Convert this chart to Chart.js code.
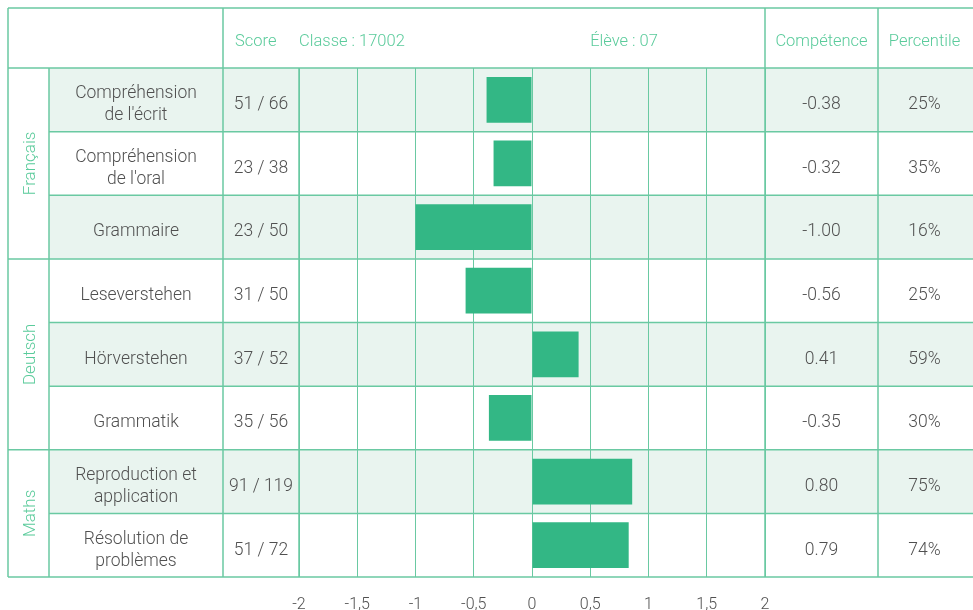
<!DOCTYPE html>
<html><head><meta charset="utf-8">
<script src="https://cdn.jsdelivr.net/npm/chart.js@4.4.1/dist/chart.umd.min.js"></script>
<style>html,body{margin:0;padding:0;background:#fff}#wrap{width:973px;height:610px}</style>
</head><body><div id="wrap"><canvas id="c" width="973" height="610"></canvas></div>
<script>
const groupLabels = ['Français', 'Deutsch', 'Maths'];
const groupSizes = [3, 3, 2];
const domains = [
  ['Compréhension', "de l'écrit"],
  ['Compréhension', "de l'oral"],
  ['Grammaire'],
  ['Leseverstehen'],
  ['Hörverstehen'],
  ['Grammatik'],
  ['Reproduction et', 'application'],
  ['Résolution de', 'problèmes']
];
const scores = ['51 / 66', '23 / 38', '23 / 50', '31 / 50', '37 / 52', '35 / 56', '91 / 119', '51 / 72'];
const competence = [-0.38, -0.32, -1.00, -0.56, 0.41, -0.35, 0.80, 0.79];
// bar lengths as drawn in the picture (slightly differ from printed values)
const barValues = [-0.39, -0.33, -1.00, -0.57, 0.40, -0.37, 0.86, 0.83];
const percentiles = [25, 35, 16, 25, 59, 30, 75, 74];
const headerTexts = { score: 'Score', classe: 'Classe : 17002', eleve: 'Élève : 07', comp: 'Compétence', perc: 'Percentile' };
const axisTicks = [-2, -1.5, -1, -0.5, 0, 0.5, 1, 1.5, 2];

const LINE = '#6ac9a2';
const SHADE = '#e9f4ef';
const BAR = '#33b785';
const HEAD = '#5acb9b';
const TXT = '#505050';
const FONT = 'Roboto, Lato, sans-serif';
const FW = '300 ';

// column x positions (layout)
const X0 = 8, XG = 49, XS = 223, XC = 299, XR = 765, XP = 878, XE = 973, YT = 8;

const tablePlugin = {
  id: 'table',
  beforeDraw(chart) {
    const ctx = chart.ctx, y = chart.scales.y;
    const half = (y.getPixelForValue(1) - y.getPixelForValue(0)) / 2;
    ctx.save();
    ctx.fillStyle = SHADE;
    barValues.forEach((_, i) => {
      if (i % 2 === 0) {
        const cy = y.getPixelForValue(i);
        ctx.fillRect(XG, cy - half, XE - XG, half * 2);
      }
    });
    ctx.restore();
  },
  afterDraw(chart) {
    const ctx = chart.ctx, y = chart.scales.y, area = chart.chartArea;
    const half = (y.getPixelForValue(1) - y.getPixelForValue(0)) / 2;
    const top = area.top, bot = area.bottom;
    ctx.save();
    ctx.strokeStyle = LINE;
    ctx.lineWidth = 1.5;
    const hl = (x1, x2, yy) => { ctx.beginPath(); ctx.moveTo(x1, yy); ctx.lineTo(x2, yy); ctx.stroke(); };
    const vl = (xx, y1, y2) => { ctx.beginPath(); ctx.moveTo(xx, y1); ctx.lineTo(xx, y2); ctx.stroke(); };
    hl(X0, XE, YT);
    hl(X0, XE, top);
    hl(X0, XE, bot);
    let idx = 0;
    const groupStarts = [];
    groupSizes.forEach(n => { groupStarts.push(idx); idx += n; });
    for (let i = 1; i < barValues.length; i++) {
      const yy = y.getPixelForValue(i) - half;
      hl(groupStarts.includes(i) ? X0 : XG, XE, yy);
    }
    vl(X0, YT, bot);
    vl(XG, top, bot);
    vl(XS, YT, bot);
    vl(XC, top, bot);
    vl(XR, YT, bot);
    vl(XP, YT, bot);

    // header texts
    ctx.font = FW + '16.5px ' + FONT;
    ctx.fillStyle = HEAD;
    ctx.textBaseline = 'middle';
    const hy = (YT + top) / 2 + 4;
    ctx.textAlign = 'left';
    ctx.fillText(headerTexts.score, 235, hy);
    ctx.fillText(headerTexts.classe, 299, hy);
    ctx.textAlign = 'center';
    ctx.fillText(headerTexts.eleve, 624, hy);
    ctx.fillText(headerTexts.comp, (XR + XP) / 2, hy);
    ctx.fillText(headerTexts.perc, (XP + XE) / 2 - 1, hy);

    // group labels rotated
    ctx.font = FW + '17px ' + FONT;
    groupLabels.forEach((g, gi) => {
      const s = groupStarts[gi], n = groupSizes[gi];
      const y1 = y.getPixelForValue(s) - half, y2 = y.getPixelForValue(s + n - 1) + half;
      ctx.save();
      ctx.translate((X0 + XG) / 2 + 2, (y1 + y2) / 2);
      ctx.rotate(-Math.PI / 2);
      ctx.fillStyle = HEAD;
      ctx.textAlign = 'center';
      ctx.fillText(g, 0, 0);
      ctx.restore();
    });

    // body texts
    ctx.font = FW + '17.5px ' + FONT;
    ctx.fillStyle = TXT;
    ctx.textAlign = 'center';
    competence.forEach((v, i) => {
      const cy = y.getPixelForValue(i) + 5;
      const lines = domains[i];
      const lh = 22;
      lines.forEach((t, k) => {
        ctx.fillText(t, (XG + XS) / 2, cy + (k - (lines.length - 1) / 2) * lh);
      });
      ctx.fillText(scores[i], (XS + XC) / 2, cy);
      ctx.fillText(v.toFixed(2), (XR + XP) / 2, cy);
      ctx.fillText(percentiles[i] + '%', (XP + XE) / 2 - 1, cy);
    });
    ctx.restore();
  }
};

new Chart(document.getElementById('c'), {
  type: 'bar',
  data: {
    labels: domains.map(d => d.join(' ')),
    datasets: [{
      data: barValues,
      backgroundColor: BAR,
      borderWidth: 0,
      categoryPercentage: 1,
      barPercentage: 0.72
    }]
  },
  options: {
    indexAxis: 'y',
    responsive: false,
    animation: false,
    devicePixelRatio: 1,
    layout: { padding: { left: XC, right: XE - XR, top: 68, bottom: 0 } },
    plugins: { legend: { display: false }, tooltip: { enabled: false } },
    scales: {
      x: {
        min: axisTicks[0], max: axisTicks[axisTicks.length - 1],
        afterBuildTicks(scale) { scale.ticks = axisTicks.map(v => ({ value: v })); },
        afterFit(scale) { scale.height = 33; },
        grid: { color: LINE, lineWidth: 1, drawTicks: false },
        border: { display: false },
        ticks: {
          padding: 18,
          color: TXT,
          font: { family: FONT, size: 16, weight: 300 },
          callback: v => String(v).replace('.', ',')
        }
      },
      y: { display: false }
    }
  },
  plugins: [tablePlugin]
});
</script>
</body></html>
